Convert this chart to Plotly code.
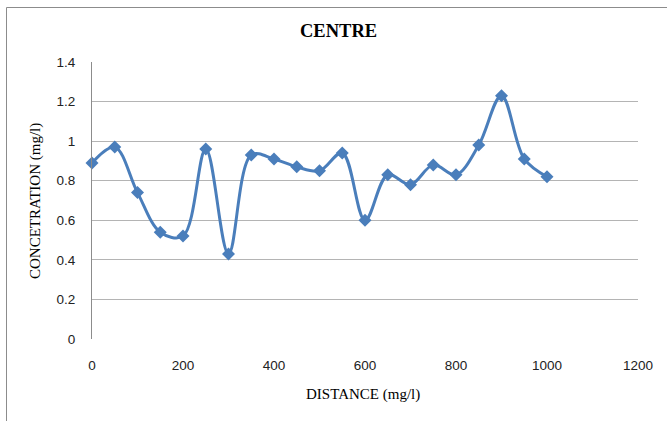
import plotly.graph_objects as go

# Distance along the transect and measured concentration
distance = [0, 50, 100, 150, 200, 250, 300, 350, 400, 450, 500,
            550, 600, 650, 700, 750, 800, 850, 900, 950, 1000]
concentration = [0.89, 0.97, 0.74, 0.54, 0.52, 0.96, 0.43, 0.93, 0.91, 0.87, 0.85,
                 0.94, 0.60, 0.83, 0.78, 0.88, 0.83, 0.98, 1.23, 0.91, 0.82]

x_ticks = [0, 200, 400, 600, 800, 1000, 1200]
y_ticks = [0, 0.2, 0.4, 0.6, 0.8, 1, 1.2, 1.4]

W, H = 667, 421
L, R, T, B = 92, 29, 62, 82
pw, ph = W - L - R, H - T - B

def px_x(p):
    return (p - L) / pw

def px_y(p):
    return (H - B - p) / ph

blue = "#4A7EBB"

fig = go.Figure()
fig.add_trace(go.Scatter(
    x=distance, y=concentration,
    mode="lines+markers",
    line=dict(color=blue, width=3, shape="spline", smoothing=1.0),
    marker=dict(symbol="diamond", size=10, color=blue),
    cliponaxis=False,
    showlegend=False,
))

fig.update_layout(
    width=W, height=H,
    margin=dict(l=L, r=R, t=T, b=B),
    paper_bgcolor="white", plot_bgcolor="white",
    xaxis=dict(
        range=[0, 1200], tickvals=x_ticks, ticktext=[str(v) for v in x_ticks],
        showgrid=False, zeroline=False, showline=False, ticks="",
        tickfont=dict(family="Liberation Sans", size=13.5, color="#222"),
        ticklabelstandoff=16,
    ),
    yaxis=dict(
        range=[0, 1.4], tickvals=y_ticks,
        ticktext=["0", "0.2", "0.4", "0.6", "0.8", "1", "1.2", "1.4"],
        showgrid=True, gridcolor="#B4B4B4", gridwidth=1,
        zeroline=False, showline=True, linecolor="#8C8C8C", linewidth=1,
        ticks="", tickfont=dict(family="Liberation Sans", size=13.5, color="#222"),
        ticklabelstandoff=13,
    ),
    shapes=[
        # outer chart frame
        dict(type="rect", xref="paper", yref="paper",
             x0=px_x(6.5), x1=px_x(700), y0=px_y(460), y1=px_y(7.5),
             line=dict(color="#8C8C8C", width=1), fillcolor="rgba(0,0,0,0)",
             layer="below"),
    ],
    annotations=[
        dict(text="<b>CENTRE</b>", xref="paper", yref="paper",
             x=px_x(338), y=px_y(31), showarrow=False,
             font=dict(family="Liberation Serif", size=18.5, color="black"),
             xanchor="center", yanchor="middle"),
        dict(text="DISTANCE (mg/l)", xref="paper", yref="paper",
             x=px_x(363), y=px_y(394), showarrow=False,
             font=dict(family="Liberation Serif", size=15, color="black"),
             xanchor="center", yanchor="middle"),
        dict(text="CONCETRATION (mg/l)", xref="paper", yref="paper",
             x=px_x(35), y=px_y(201), showarrow=False, textangle=-90,
             font=dict(family="Liberation Serif", size=15, color="black"),
             xanchor="center", yanchor="middle"),
    ],
)

fig.write_html("out.html")
